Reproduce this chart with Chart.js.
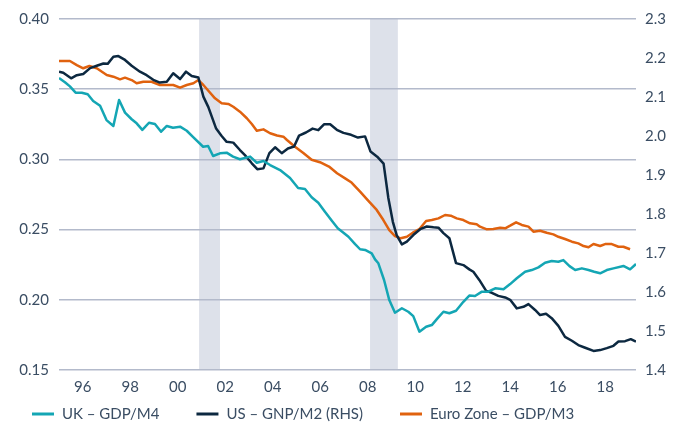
<!DOCTYPE html>
<html>
<head>
<meta charset="utf-8">
<script src="https://cdn.jsdelivr.net/npm/chart.js@4.4.1/dist/chart.umd.min.js"></script>
<style>
  html, body { margin: 0; padding: 0; background: #fff; }
  #wrap { width: 683px; height: 423px; }
</style>
</head>
<body>
<div id="wrap"><canvas id="grafico" width="683" height="423"></canvas></div>
<script>
// Datos (anos en decimal)
const ukYears = [1995.0, 1995.25, 1995.46, 1995.7, 1995.96, 1996.21, 1996.44, 1996.73, 1997.0, 1997.29,
  1997.53, 1997.78, 1998.06, 1998.27, 1998.51, 1998.79, 1999.04, 1999.3, 1999.54, 1999.8,
  2000.1, 2000.38, 2000.64, 2001.07, 2001.28, 2001.49, 2001.78, 2002.06, 2002.33, 2002.62,
  2003.05, 2003.33, 2003.61, 2003.89, 2004.31, 2004.73, 2005.07, 2005.36, 2005.64, 2005.92,
  2006.2, 2006.49, 2006.74, 2006.98, 2007.19, 2007.47, 2007.68, 2007.89, 2008.17, 2008.31,
  2008.45, 2008.69, 2008.91, 2009.15, 2009.44, 2009.71, 2009.92, 2010.18, 2010.46, 2010.7,
  2010.94, 2011.19, 2011.44, 2011.72, 2012.03, 2012.28, 2012.52, 2012.81, 2013.08, 2013.37,
  2013.72, 2014.0, 2014.28, 2014.63, 2014.91, 2015.19, 2015.47, 2015.75, 2016.03, 2016.24,
  2016.5, 2016.74, 2017.02, 2017.3, 2017.54, 2017.79, 2018.07, 2018.35, 2018.77, 2019.05, 2019.3];
const ukValues = [0.358, 0.355, 0.352, 0.3475, 0.3475, 0.3464, 0.3416, 0.3382, 0.328, 0.3238,
  0.3423, 0.3333, 0.3286, 0.3257, 0.321, 0.3261, 0.3252, 0.3197, 0.3238, 0.3226,
  0.3233, 0.3204, 0.316, 0.309, 0.3095, 0.3024, 0.3043, 0.3048, 0.302, 0.3001,
  0.302, 0.2976, 0.2989, 0.296, 0.2924, 0.2867, 0.2796, 0.2789, 0.273, 0.2691,
  0.2627, 0.2563, 0.2509, 0.2478, 0.2449, 0.2397, 0.236, 0.2355, 0.2331, 0.2288,
  0.226, 0.2141, 0.1998, 0.1908, 0.194, 0.1915, 0.1884, 0.1773, 0.1808, 0.182,
  0.1868, 0.1915, 0.1904, 0.1922, 0.1986, 0.203, 0.2027, 0.2058, 0.2058, 0.2082,
  0.2075, 0.2112, 0.2153, 0.22, 0.2212, 0.2231, 0.2264, 0.2276, 0.2271, 0.2283,
  0.224, 0.2212, 0.2224, 0.2212, 0.22, 0.2189, 0.2212, 0.2224, 0.2241, 0.2217, 0.2255];

const usYears = [1995.0, 1995.18, 1995.51, 1995.75, 1996.02, 1996.31, 1996.59, 1996.87, 1997.05, 1997.29,
  1997.5, 1997.78, 1998.06, 1998.41, 1998.69, 1998.97, 1999.25, 1999.54, 1999.81, 2000.1,
  2000.35, 2000.59, 2000.87, 2001.08, 2001.29, 2001.61, 2001.85, 2002.06, 2002.34, 2002.62,
  2002.83, 2003.12, 2003.35, 2003.61, 2003.86, 2004.1, 2004.38, 2004.64, 2004.9, 2005.11,
  2005.4, 2005.68, 2005.92, 2006.16, 2006.42, 2006.7, 2006.98, 2007.3, 2007.59, 2007.89,
  2008.12, 2008.4, 2008.67, 2008.87, 2009.06, 2009.22, 2009.44, 2009.65, 2009.92, 2010.21,
  2010.49, 2010.77, 2010.98, 2011.19, 2011.44, 2011.72, 2012.03, 2012.28, 2012.45, 2012.7,
  2012.99, 2013.23, 2013.5, 2013.79, 2014.0, 2014.28, 2014.56, 2014.77, 2015.05, 2015.26,
  2015.51, 2015.75, 2016.03, 2016.31, 2016.6, 2016.87, 2017.16, 2017.51, 2017.79, 2018.07,
  2018.35, 2018.56, 2018.84, 2019.08, 2019.3];
const usValues = [2.165, 2.162, 2.148, 2.156, 2.159, 2.174, 2.18, 2.186, 2.185, 2.203,
  2.205, 2.195, 2.18, 2.165, 2.156, 2.144, 2.137, 2.139, 2.161, 2.146,
  2.165, 2.154, 2.15, 2.101, 2.074, 2.02, 2.0, 1.985, 1.983, 1.964,
  1.951, 1.93, 1.915, 1.917, 1.956, 1.971, 1.956, 1.968, 1.973, 2.001,
  2.009, 2.019, 2.015, 2.03, 2.03, 2.016, 2.008, 2.003, 1.996, 1.999,
  1.96, 1.947, 1.929, 1.841, 1.78, 1.746, 1.722, 1.729, 1.746, 1.761,
  1.768, 1.766, 1.765, 1.751, 1.738, 1.674, 1.669, 1.658, 1.652, 1.631,
  1.603, 1.598, 1.59, 1.586, 1.58, 1.558, 1.562, 1.569, 1.554, 1.541,
  1.544, 1.533, 1.513, 1.485, 1.475, 1.464, 1.457, 1.449, 1.451, 1.456,
  1.462, 1.473, 1.474, 1.479, 1.473];

const euroYears = [1995.0, 1995.46, 1995.75, 1996.02, 1996.28, 1996.59, 1997.01, 1997.29, 1997.57, 1997.78,
  1998.06, 1998.27, 1998.55, 1998.9, 1999.25, 1999.54, 1999.81, 2000.1, 2000.38, 2000.66,
  2000.87, 2001.08, 2001.29, 2001.57, 2001.85, 2002.13, 2002.34, 2002.62, 2002.91, 2003.12,
  2003.33, 2003.61, 2003.89, 2004.18, 2004.45, 2004.6, 2004.94, 2005.29, 2005.64, 2005.99,
  2006.37, 2006.71, 2007.05, 2007.32, 2007.68, 2008.03, 2008.38, 2008.66, 2008.91, 2009.15,
  2009.39, 2009.65, 2009.9, 2010.18, 2010.46, 2010.7, 2010.98, 2011.26, 2011.5, 2011.75,
  2012.03, 2012.31, 2012.59, 2012.73, 2013.02, 2013.29, 2013.58, 2013.79, 2014.0, 2014.25,
  2014.49, 2014.77, 2014.98, 2015.26, 2015.54, 2015.82, 2016.03, 2016.31, 2016.6, 2016.87,
  2017.09, 2017.3, 2017.51, 2017.79, 2018.0, 2018.28, 2018.56, 2018.77, 2019.05];
const euroValues = [0.3701, 0.3701, 0.3672, 0.3649, 0.3665, 0.3649, 0.3601, 0.3589, 0.357, 0.3582,
  0.3565, 0.3542, 0.3553, 0.3553, 0.353, 0.353, 0.353, 0.3511, 0.353, 0.3542,
  0.3565, 0.353, 0.3489, 0.3435, 0.34, 0.3395, 0.3375, 0.334, 0.3293, 0.3252,
  0.3204, 0.3214, 0.3186, 0.317, 0.3162, 0.3138, 0.309, 0.3046, 0.2998, 0.298,
  0.2949, 0.2901, 0.2865, 0.2835, 0.277, 0.2704, 0.264, 0.2568, 0.2497, 0.2454,
  0.2438, 0.2449, 0.2478, 0.2504, 0.2561, 0.2568, 0.258, 0.2604, 0.2599, 0.258,
  0.2568, 0.2545, 0.2538, 0.2521, 0.2502, 0.2504, 0.2513, 0.2509, 0.2528, 0.2552,
  0.2533, 0.2521, 0.2485, 0.2492, 0.2478, 0.2466, 0.2449, 0.2433, 0.2414, 0.2402,
  0.2383, 0.2374, 0.2397, 0.2383, 0.2397, 0.2397, 0.2378, 0.2378, 0.236];

const xTickYears = [1996, 1998, 2000, 2002, 2004, 2006, 2008, 2010, 2012, 2014, 2016, 2018];
const xTickLabels = ['96', '98', '00', '02', '04', '06', '08', '10', '12', '14', '16', '18'];
const leftTicks = [0.15, 0.20, 0.25, 0.30, 0.35, 0.40];
const rightTicks = [1.4, 1.5, 1.6, 1.7, 1.8, 1.9, 2.0, 2.1, 2.2, 2.3];

// Periodos sombreados (recesiones)
const recessionStart = [2000.9, 2008.1];
const recessionEnd = [2001.78, 2009.27];

const colorTexto = '#3a4d63';
const fuente = { family: 'Lato', size: 15 };

function toPoints(xs, ys) {
    return xs.map((x, i) => ({ x: x, y: ys[i] }));
}

// Bandas grises detras de todo
const bandasPlugin = {
    id: 'bandas',
    beforeDraw(chart) {
        const ctx = chart.ctx;
        const area = chart.chartArea;
        const xs = chart.scales.x;
        ctx.save();
        ctx.fillStyle = '#dde1ea';
        for (let i = 0; i < recessionStart.length; i++) {
            const x1 = xs.getPixelForValue(recessionStart[i]);
            const x2 = xs.getPixelForValue(recessionEnd[i]);
            ctx.fillRect(x1, area.top, x2 - x1, area.bottom - area.top);
        }
        ctx.restore();
    }
};

// Leyenda dibujada a mano abajo
const leyendaPlugin = {
    id: 'leyenda',
    afterDraw(chart) {
        const ctx = chart.ctx;
        ctx.save();
        ctx.font = '15px Lato';
        ctx.textBaseline = 'middle';
        let x = 32;
        const y = 414;
        chart.data.datasets.forEach(ds => {
            ctx.strokeStyle = ds.borderColor;
            ctx.lineWidth = 3;
            ctx.beginPath();
            ctx.moveTo(x, y);
            ctx.lineTo(x + 22, y);
            ctx.stroke();
            ctx.fillStyle = colorTexto;
            ctx.fillText(ds.label, x + 30, y);
            x += 30 + ctx.measureText(ds.label).width + 37;
        });
        ctx.restore();
    }
};

const ctx = document.getElementById('grafico').getContext('2d');
new Chart(ctx, {
    type: 'line',
    data: {
        datasets: [{
            label: 'UK – GDP/M4',
            data: toPoints(ukYears, ukValues),
            borderColor: '#14a6b4',
            yAxisID: 'y'
        }, {
            label: 'US – GNP/M2 (RHS)',
            data: toPoints(usYears, usValues),
            borderColor: '#0c2840',
            yAxisID: 'y1'
        }, {
            label: 'Euro Zone – GDP/M3',
            data: toPoints(euroYears, euroValues),
            borderColor: '#e0620f',
            yAxisID: 'y'
        }]
    },
    options: {
        responsive: false,
        animation: false,
        layout: { padding: { top: 19, bottom: 25, left: 0, right: 0 } },
        elements: {
            point: { radius: 0 },
            line: { borderWidth: 2.5, tension: 0, borderJoinStyle: 'round' }
        },
        plugins: {
            legend: { display: false },
            tooltip: { enabled: false }
        },
        scales: {
            x: {
                type: 'linear',
                min: 1995,
                max: 2019.3,
                afterBuildTicks: s => { s.ticks = xTickYears.map(v => ({ value: v })); },
                afterFit: s => { s.height = 28; },
                ticks: {
                    callback: v => xTickLabels[xTickYears.indexOf(v)],
                    autoSkip: false,
                    maxRotation: 0,
                    padding: 8,
                    color: colorTexto,
                    font: fuente
                },
                grid: { display: false, drawTicks: false },
                border: { display: false }
            },
            y: {
                position: 'left',
                min: 0.15,
                max: 0.40,
                afterBuildTicks: s => { s.ticks = leftTicks.map(v => ({ value: v })); },
                afterFit: s => { s.width = 59; },
                ticks: {
                    callback: v => v.toFixed(2),
                    padding: 10,
                    color: colorTexto,
                    font: fuente
                },
                grid: { color: '#b3bacb', lineWidth: 1.5, drawTicks: false },
                border: { display: false }
            },
            y1: {
                position: 'right',
                min: 1.4,
                max: 2.3,
                afterBuildTicks: s => { s.ticks = rightTicks.map(v => ({ value: v })); },
                afterFit: s => { s.width = 47; },
                ticks: {
                    callback: v => v.toFixed(1),
                    padding: 9,
                    color: colorTexto,
                    font: fuente
                },
                grid: { display: false, drawTicks: false },
                border: { display: false }
            }
        }
    },
    plugins: [bandasPlugin, leyendaPlugin]
});
</script>
</body>
</html>
